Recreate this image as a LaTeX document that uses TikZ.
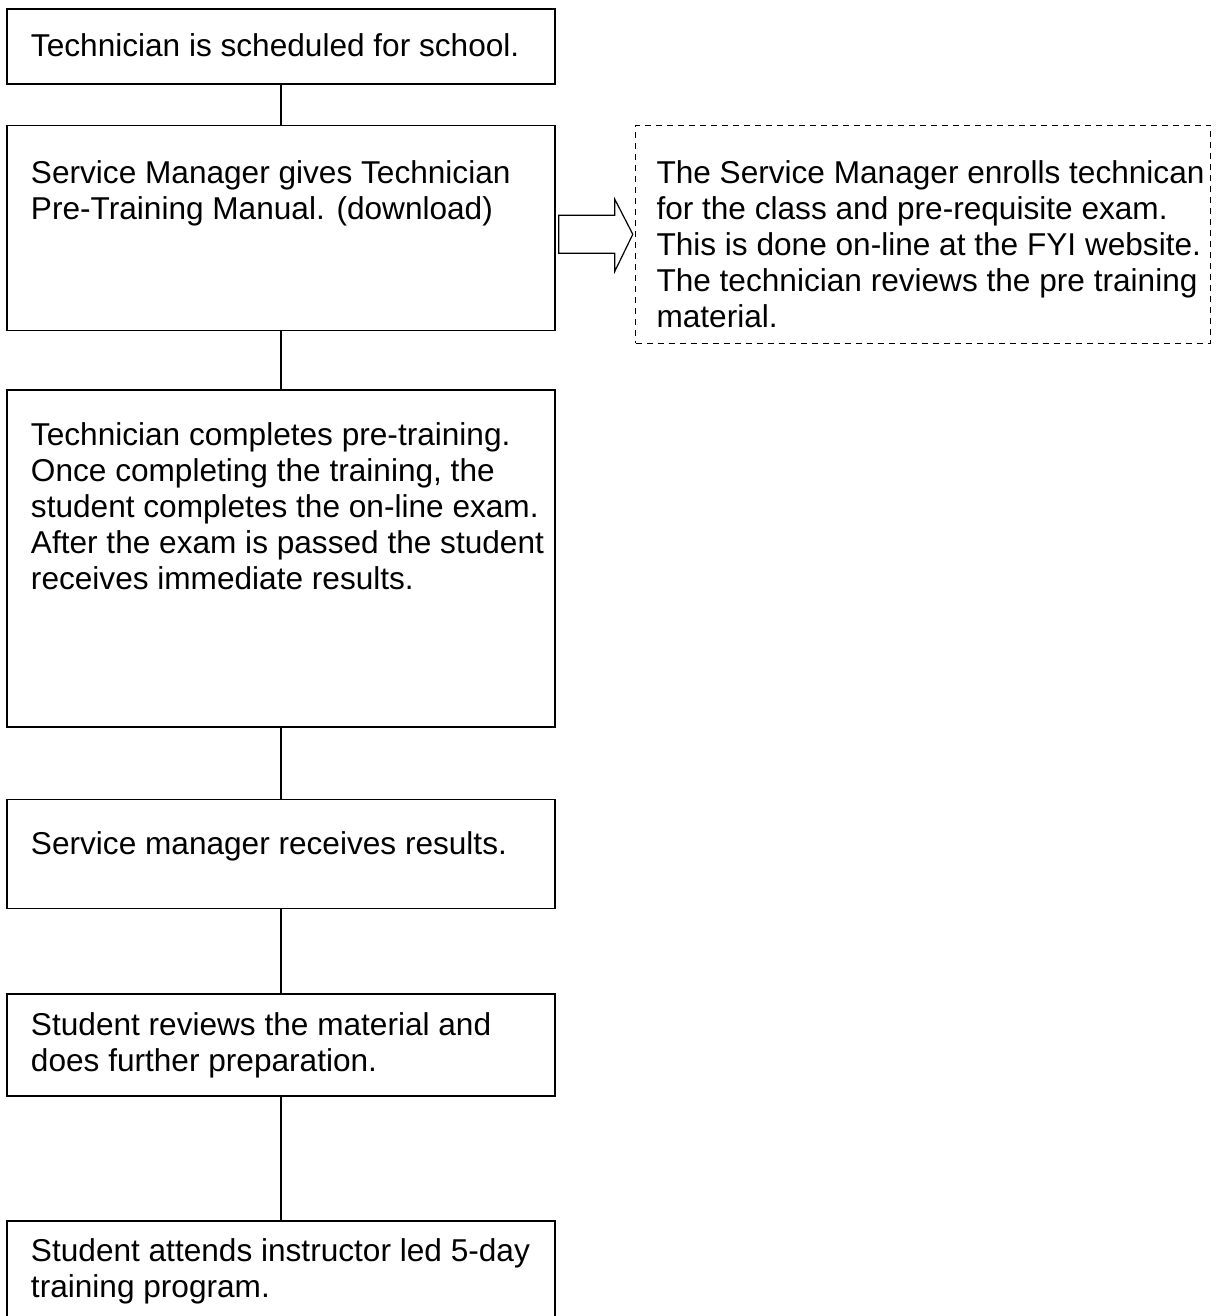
\documentclass[tikz,border=0pt]{standalone}
\usepackage{fontspec}
\setmainfont{Liberation Sans}
\usepackage {tikz}
\usetikzlibrary {positioning}

\begin{document}
\begin{tikzpicture}[x=0.5pt ,y=-0.5pt ,node distance =20pt ,
  semithick ,
  stepbox/.style ={ rectangle, draw, black, line width = 0.8pt, text = black,
  font = \fontsize{15.8}{18}\selectfont, align = flush left, text width = 250pt,
  inner xsep = 12pt, inner ysep = 0pt,
  execute at begin node = {\rightskip=-14pt plus 1fil\relax}},
  notebox/.style ={ rectangle, draw, black, line width = 0.7pt, text = black,
  dash pattern = on 3pt off 2.5pt, font = \fontsize{15.8}{18}\selectfont,
  align = flush left, text width = 266.5pt, inner xsep = 10.5pt, inner ysep = 0pt,
  execute at begin node = {\rightskip=-14pt plus 1fil\relax}},
  link/.style ={ line width = 0.6pt},
  hollow/.style ={ line width = 0.6pt, line join = miter, fill = white}]
  \useasboundingbox (0,0) rectangle (1219,1316);
  \node[stepbox, text height = 24pt, text depth = 13.5pt, anchor = north] (sched) at (281,8)
  {Technician is scheduled for school.};
  \node[stepbox, text height = 29pt, text depth = 73.5pt] (mgr) [below=20pt of sched]
  {Service Manager gives Technician\\Pre-Training Manual. (download)};
  \node[stepbox, text height = 27.5pt, text depth = 141pt] (pre) [below=29pt of mgr]
  {Technician completes pre-training.\\Once completing the training, the\\student completes the on-line exam.\\After the exam is passed the student\\receives immediate results.};
  \node[stepbox, text height = 27.5pt, text depth = 27pt] (results) [below=35.5pt of pre]
  {Service manager receives results.};
  \node[stepbox, text height = 20.5pt, text depth = 30.5pt] (review) [below=42pt of results]
  {Student reviews the material and\\does further preparation.};
  \node[stepbox, text height = 20.5pt, text depth = 38.5pt] (attend) [below=61.5pt of review]
  {Student attends instructor led 5-day\\training program.};
  \node[notebox, text height = 29pt, text depth = 80pt] (enroll) [right=39.5pt of mgr.north east, anchor = north west]
  {The Service Manager enrolls technican\\for the class and pre-requisite exam.\\This is done on-line at the FYI website.\\The technician reviews the pre training\\material.};
  \draw[link] (sched) -- (mgr);
  \draw[link] (mgr) -- (pre);
  \draw[link] (pre) -- (results);
  \draw[link] (results) -- (review);
  \draw[link] (review) -- (attend);
  \draw[hollow] (mgr.east |- enroll.west) ++(3,-19) -- ++(56,0) -- ++(0,-16)
  -- ([xshift=-1pt]enroll.west) -- ++(-18,37) -- ++(0,-18) -- ++(-56,0) -- cycle;
\end{tikzpicture}
\end{document}
